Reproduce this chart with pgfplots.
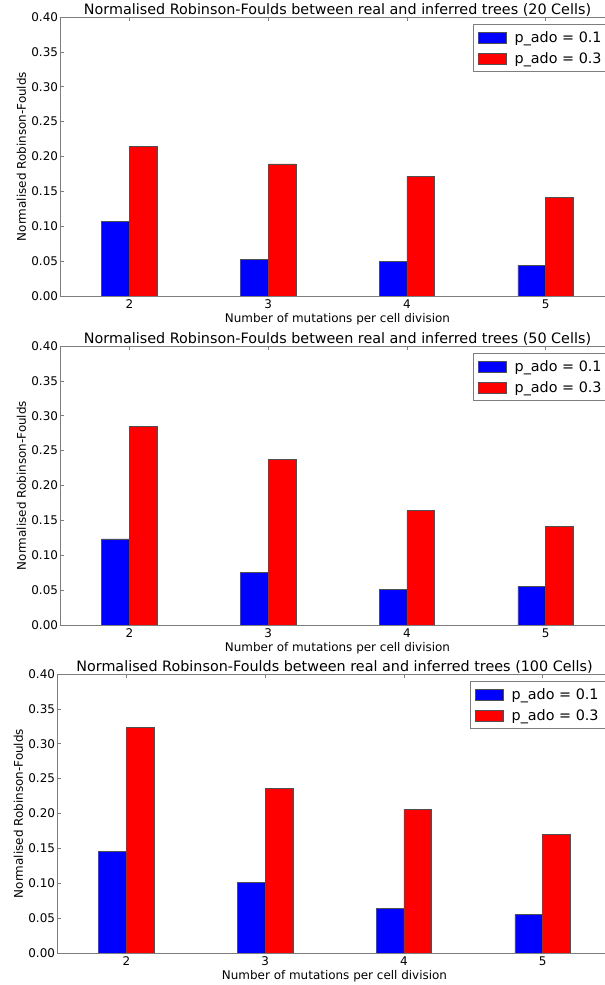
\documentclass[border=0pt]{standalone}
\usepackage{pgfplots}
\pgfplotsset{compat=1.18}
\usepackage{fontspec}
\setmainfont{DejaVu Sans}
\definecolor{edge}{RGB}{80,80,80}
\definecolor{frame}{RGB}{125,125,125}
\pgfplotsset{rfstyle/.style={
  scale only axis, width=555bp, height=279bp, anchor=south west,
  xmin=1.5, xmax=5.5, ymin=0, ymax=0.4,
  xtick={2,3,4,5},
  ytick={0,0.05,0.1,0.15,0.2,0.25,0.3,0.35,0.4},
  yticklabel style={xshift=1.5bp, /pgf/number format/fixed, /pgf/number format/fixed zerofill, /pgf/number format/precision=2},
  /pgf/number format/assume math mode=true,
  tick align=inside, tick pos=both, major tick length=4bp,
  axis line style={frame, line width=0.7bp},
  every tick/.style={frame, line width=0.6bp},
  ticklabel style={font=\fontsize{12}{14}\selectfont},
  label style={font=\fontsize{12}{14}\selectfont},
  every axis title/.style={font=\fontsize{14.4}{17}\selectfont, at={(0.5,1)}, anchor=base, yshift=2.5bp, inner sep=0pt},
  xlabel={Number of mutations per cell division},
  ylabel={Normalised Robinson-Foulds},
  xlabel style={at={(axis description cs:0.5,-0.082)}, anchor=center},
  ylabel style={at={(axis description cs:-0.0694,0.5)}, anchor=center},
  legend style={draw=frame, line width=0.7bp, at={(0.989,0.975)}, anchor=north east,
    font=\fontsize{14.4}{17}\selectfont, row sep=0bp, column sep=6bp,
    inner xsep=5bp, inner ysep=2.5bp, nodes={inner ysep=4.3bp},
    cells={anchor=west}},
  legend image code/.code={\draw[#1] (0bp,-5.5bp) rectangle (28bp,5.5bp);},
}}
\begin{document}
\begin{tikzpicture}[x=1bp,y=1bp]
\useasboundingbox (0,0) rectangle (605,985);
% Panel 1: 20 cells
\begin{axis}[rfstyle, at={(60bp,689bp)}, title={Normalised Robinson-Foulds between real and inferred trees (20 Cells)}]
\addplot[ybar, bar width=0.2, bar shift=0pt, fill=blue, draw=edge, line width=0.5bp] coordinates {(1.9,0.107) (2.9,0.0525) (3.9,0.0496) (4.9,0.0440)};
\addplot[ybar, bar width=0.2, bar shift=0pt, fill=red, draw=edge, line width=0.5bp] coordinates {(2.1,0.2145) (3.1,0.1895) (4.1,0.171) (5.1,0.1415)};
\legend{p\_ado = 0.1, p\_ado = 0.3}
\end{axis}
% Panel 2: 50 cells
\begin{axis}[rfstyle, at={(60bp,360bp)}, title={Normalised Robinson-Foulds between real and inferred trees (50 Cells)}]
\addplot[ybar, bar width=0.2, bar shift=0pt, fill=blue, draw=edge, line width=0.5bp] coordinates {(1.9,0.1236) (2.9,0.0754) (3.9,0.0510) (4.9,0.0549)};
\addplot[ybar, bar width=0.2, bar shift=0pt, fill=red, draw=edge, line width=0.5bp] coordinates {(2.1,0.2845) (3.1,0.2370) (4.1,0.1640) (5.1,0.1410)};
\legend{p\_ado = 0.1, p\_ado = 0.3}
\end{axis}
% Panel 3: 100 cells
\begin{axis}[rfstyle, at={(57bp,32bp)}, title={Normalised Robinson-Foulds between real and inferred trees (100 Cells)}]
\addplot[ybar, bar width=0.2, bar shift=0pt, fill=blue, draw=edge, line width=0.5bp] coordinates {(1.9,0.146) (2.9,0.101) (3.9,0.0636) (4.9,0.0550)};
\addplot[ybar, bar width=0.2, bar shift=0pt, fill=red, draw=edge, line width=0.5bp] coordinates {(2.1,0.3235) (3.1,0.2360) (4.1,0.2060) (5.1,0.1700)};
\legend{p\_ado = 0.1, p\_ado = 0.3}
\end{axis}
\end{tikzpicture}
\end{document}
